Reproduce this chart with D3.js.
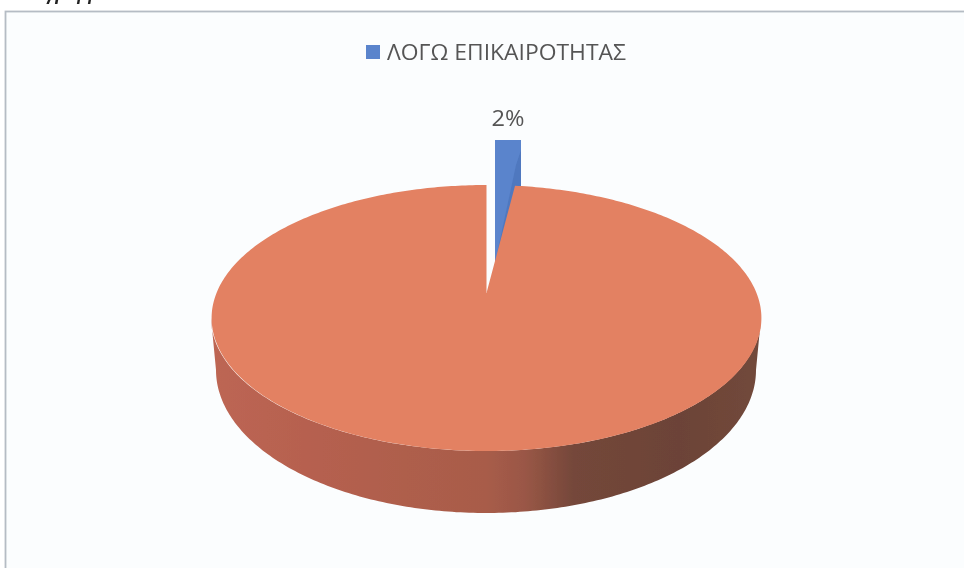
<!DOCTYPE html>
<html><head><meta charset="utf-8">
<script src="https://cdn.jsdelivr.net/npm/d3@7"></script>
<style>html,body{margin:0;padding:0;background:#fff;overflow:hidden}svg{display:block}</style>
</head><body><svg id="c" width="964" height="568"></svg>
<script>
const categories = ["ΛΟΓΩ ΕΠΙΚΑΙΡΟΤΗΤΑΣ", "ΑΛΛΟ"];
const seriesValues = [2, 98];
const dataLabels = ["2%"];
const legendEntries = ["ΛΟΓΩ ΕΠΙΚΑΙΡΟΤΗΤΑΣ"];
const captionText = "Διάγραμμα 53:";
const sliceColors = ["#5a84cc", "#e38162"];

const svg = d3.select("#c");
const defs = svg.append("defs");
defs.append("filter").attr("id","soft").append("feGaussianBlur").attr("stdDeviation",0.6);
const wg = defs.append("linearGradient").attr("id","wall").attr("gradientUnits","userSpaceOnUse")
  .attr("x1",211).attr("x2",761).attr("y1",0).attr("y2",0);
[[0,"#bd6653"],[0.2,"#b5604f"],[0.5,"#a85c49"],[0.57,"#9a5746"],[0.66,"#74473a"],[0.85,"#6c4337"],[1,"#72493b"]]
  .forEach(s=>wg.append("stop").attr("offset",s[0]).attr("stop-color",s[1]));

const root = svg.append("g").attr("filter","url(#soft)");
root.append("rect").attr("width",964).attr("height",568).attr("fill","#ffffff");
root.append("rect").attr("x",5.5).attr("y",11.5).attr("width",970).attr("height",580)
  .attr("fill","#fbfdfe").attr("stroke","#b5bcc4").attr("stroke-width",1.8);
root.append("text").attr("x",17).attr("y",0).attr("font-family","Liberation Sans")
  .attr("font-size",18).attr("font-weight","bold").attr("font-style","italic").attr("fill","#222").text(captionText);

// Projection of a point on the tilted plate: angle (0 = up, clockwise) + apex
const persp = -0.188;
function project(a, c){
  const u = Math.sin(a), v = -Math.cos(a), d = 1 + persp*v;
  return [c.x + c.s*u/d, c.y + c.t*v/d];
}
const topPlane = {x:486.5, y:293, s:270, t:128.3};
const slices = d3.pie().sort(null).value(d=>d)(seriesValues);
const main = slices[1];
const range = (a,b,n=200)=>d3.range(n+1).map(i=>a+(b-a)*i/n);
const line = d3.line();

// main wall: front half of rim extruded
const cxTop=486, cyTop=318, rxTop=275, ryTop=133, cxBot=486, cyBot=370, rxBot=270, ryBot=143;
const th = range(0, Math.PI);
const wallPts = th.map(t=>[cxTop+rxTop*Math.cos(t), cyTop+ryTop*Math.sin(t)])
  .concat(th.slice().reverse().map(t=>[cxBot+rxBot*Math.cos(t), cyBot+ryBot*Math.sin(t)]));
root.append("path").attr("d",line(wallPts)+"Z").attr("fill","url(#wall)");

// blue exploded slice
const apexB = [495,263], topY = 140;
root.append("path").attr("fill",sliceColors[0])
  .attr("d",line([apexB,[495,topY],[521,topY],[521,195]])+"Z");
root.append("path").attr("fill","#4f78bf")
  .attr("d",line([apexB,[516,165],[521,150],[521,195]])+"Z");

// main top face
const mPts = [[topPlane.x,topPlane.y]].concat(range(main.startAngle,main.endAngle,400).map(a=>project(a,topPlane)));
root.append("path").attr("d",line(mPts)+"Z").attr("fill",sliceColors[1]);

// legend
const lg = root.append("g");
lg.append("rect").attr("x",366).attr("y",45).attr("width",14).attr("height",14).attr("fill",sliceColors[0]);
lg.append("text").attr("x",387).attr("y",59.5).attr("font-family","Open Sans").attr("font-size",22)
  .attr("fill","#555").attr("textLength",239).attr("lengthAdjust","spacingAndGlyphs").text(legendEntries[0]);
root.append("text").attr("x",508).attr("y",126).attr("text-anchor","middle").attr("font-family","Open Sans")
  .attr("font-size",21).attr("fill","#555").attr("textLength",33).attr("lengthAdjust","spacingAndGlyphs").text(dataLabels[0]);
</script></body></html>
